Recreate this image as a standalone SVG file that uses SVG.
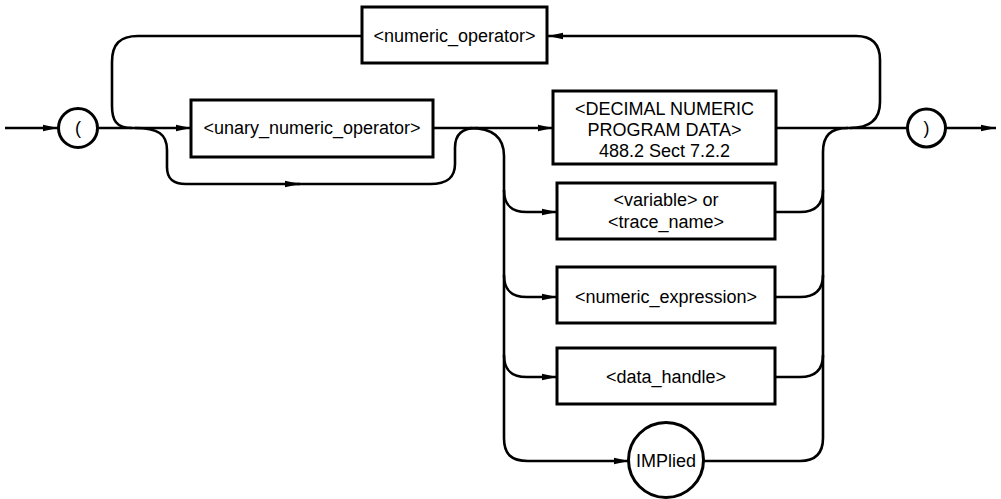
<svg xmlns="http://www.w3.org/2000/svg" width="1001" height="499" viewBox="0 0 1001 499">
<defs>
<marker id="arr" markerWidth="16" markerHeight="8" refX="15" refY="4" orient="auto" markerUnits="userSpaceOnUse">
<path d="M0,0.8 L15,4 L0,7.2 Z" fill="#000"/>
</marker>
<style>
.ln{fill:none;stroke:#000;stroke-width:2.6}
.bx{fill:#fff;stroke:#000;stroke-width:3}
.t{font-family:"Liberation Sans",Arial,sans-serif;font-size:18px;text-anchor:middle;fill:#000}
</style>
</defs>
<g id="connectors">
<path class="ln" d="M5,128 H58" marker-end="url(#arr)"/>
<path class="ln" d="M98,128 H191" marker-end="url(#arr)"/>
<path class="ln" d="M132,128 C116,128 112,120 112,106 V62 C112,44 120,36 138,36 H362"/>
<path class="ln" d="M850,128 C872,128 880,118 880,102 V60 C880,44 872,36 856,36 H548" marker-end="url(#arr)"/>
<path class="ln" d="M135,128 C158,128 167,134 167,150 V167 C167,179 173,184 186,184 H300" marker-end="url(#arr)"/>
<path class="ln" d="M290,184 H430 C448,184 455,177 455,164 V148 C455,134 462,128 478,128"/>
<path class="ln" d="M433,128 H553" marker-end="url(#arr)"/>
<path class="ln" d="M470,128 C494,128 504,138 504,156 V438 C504,454 511,461 528,461 H629" marker-end="url(#arr)"/>
<path class="ln" d="M504,190 C504,205 511,212 527,212 H557" marker-end="url(#arr)"/>
<path class="ln" d="M504,275 C504,290 511,297 527,297 H557" marker-end="url(#arr)"/>
<path class="ln" d="M504,355 C504,370 511,377 527,377 H557" marker-end="url(#arr)"/>
<path class="ln" d="M703,461 H800 C815,461 823,454 823,438 V152 C823,136 830,128 848,128"/>
<path class="ln" d="M775,212 H800 C815,212 823,205 823,190"/>
<path class="ln" d="M775,297 H800 C815,297 823,290 823,275"/>
<path class="ln" d="M775,377 H800 C815,377 823,370 823,355"/>
<path class="ln" d="M776,128 H907"/>
<path class="ln" d="M946,128 H996" marker-end="url(#arr)"/>
</g>
<g id="open_paren">
<circle class="bx" cx="78" cy="128" r="19.5"/>
<text class="t" x="78" y="134">(</text>
</g>
<g id="numeric_operator">
<rect class="bx" x="362" y="7" width="185" height="56"/>
<text class="t" x="454.5" y="41.5">&lt;numeric_operator&gt;</text>
</g>
<g id="unary_numeric_operator">
<rect class="bx" x="191" y="100" width="242" height="57"/>
<text class="t" x="312" y="134">&lt;unary_numeric_operator&gt;</text>
</g>
<g id="decimal">
<rect class="bx" x="553" y="91" width="223" height="73"/>
<text class="t" x="664.5" y="115">&lt;DECIMAL NUMERIC</text>
<text class="t" x="664.5" y="136">PROGRAM DATA&gt;</text>
<text class="t" x="664.5" y="157">488.2 Sect 7.2.2</text>
</g>
<g id="variable">
<rect class="bx" x="557" y="183" width="218" height="56"/>
<text class="t" x="666" y="206">&lt;variable&gt; or</text>
<text class="t" x="666" y="228">&lt;trace_name&gt;</text>
</g>
<g id="numeric_expression">
<rect class="bx" x="557" y="267" width="218" height="56"/>
<text class="t" x="666" y="303">&lt;numeric_expression&gt;</text>
</g>
<g id="data_handle">
<rect class="bx" x="557" y="348" width="218" height="56"/>
<text class="t" x="666" y="383">&lt;data_handle&gt;</text>
</g>
<g id="implied">
<circle class="bx" cx="666" cy="460" r="37.5"/>
<text class="t" x="666" y="467">IMPlied</text>
</g>
<g id="close_paren">
<circle class="bx" cx="926.5" cy="128" r="19"/>
<text class="t" x="926.5" y="134">)</text>
</g>
</svg>
